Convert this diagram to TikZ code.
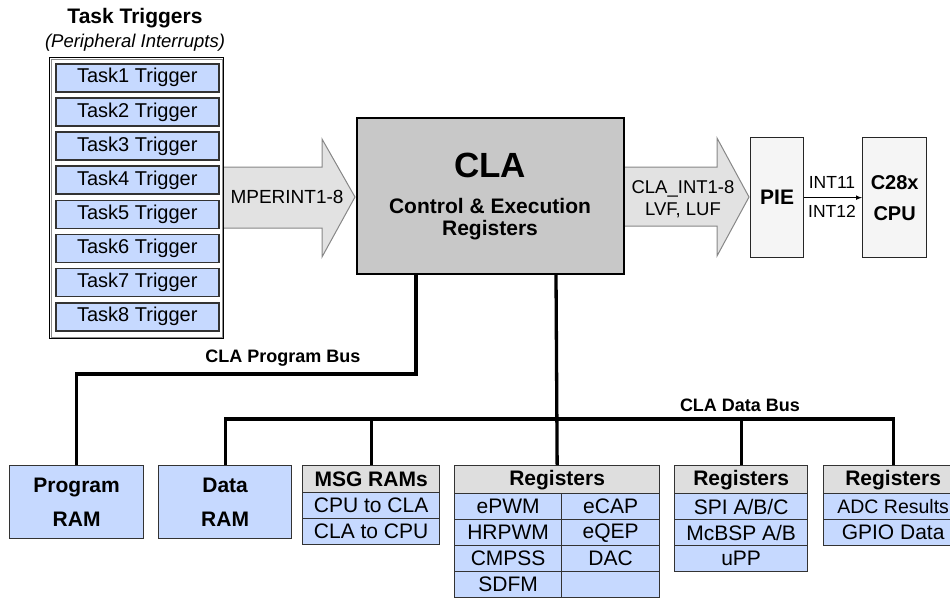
\documentclass[tikz,border=0pt]{standalone}
\RequirePackage{fontspec}
\setmainfont{Liberation Sans}
\RequirePackage{tikz}
\RequirePackage{tkz-euclide}
\usetikzlibrary{calc}

\definecolor{cellblue}{RGB}{198,217,255}
\definecolor{headgray}{RGB}{222,222,222}
\definecolor{clagray}{RGB}{200,200,200}
\definecolor{arrowgray}{RGB}{226,226,226}
\definecolor{arrowedge}{RGB}{135,135,135}
\definecolor{boxwhite}{RGB}{245,245,245}

\tikzset{
  cell/.style={draw=black!80, line width=1.3pt, fill=cellblue, inner sep=0pt,
    anchor=north west, font=\fontsize{21}{25}\selectfont},
  headcell/.style={cell, fill=headgray, font=\bfseries\fontsize{21}{25}\selectfont},
  taskcell/.style={cell, line width=1.6pt, minimum width=163pt, minimum height=28pt,
    font=\fontsize{20}{24}\selectfont},
  rambox/.style={cell, minimum height=73pt, align=center,
    font=\bfseries\fontsize{21}{34}\selectfont},
  sidebox/.style={draw=black!85, line width=1.3pt, fill=boxwhite, inner sep=0pt,
    anchor=north west, minimum height=120pt, align=center},
  bigarrow/.style={draw=arrowedge, line width=1pt, fill=arrowgray, line join=miter},
  bus/.style={draw=black, line width=3.3pt, line join=miter},
  buslabel/.style={font=\bfseries\fontsize{18}{22}\selectfont, inner sep=0pt},
}

\begin{document}
\begin{tikzpicture}[x=1pt,y=-1pt]
                    \useasboundingbox (0,0) rectangle (950,598);

                    \filldraw[bigarrow] (223,167) -- (322,167) -- (322,139) -- (355,197)
                        -- (322,257) -- (322,228) -- (223,228) -- cycle;
                    \filldraw[bigarrow] (623,167) -- (717,167) -- (717,138) -- (749,197)
                        -- (717,256) -- (717,226) -- (623,226) -- cycle;
                    \node[font=\fontsize{19}{22}\selectfont, inner sep=0pt] (mperint) at (287,197) {MPERINT1-8};
                    \node[font=\fontsize{18.5}{22}\selectfont, align=center, inner sep=0pt] (claint) at (683,199) {CLA\_INT1-8\\LVF, LUF};

                    \node[font=\bfseries\fontsize{21}{25}\selectfont, inner sep=0pt] (tasktitle) at (135,18) {Task Triggers};
                    \node[font=\itshape\fontsize{18.5}{22}\selectfont, inner sep=0pt] (tasksub) at (135,43) {(Peripheral Interrupts)};
                    \node[draw=black, line width=1.2pt, fill=white, anchor=north west, inner sep=0pt,
                        minimum width=174pt, minimum height=281pt] (taskframe) at (49,57) {};
                    \draw[black!45, line width=0.9pt] ($(taskframe.north west)+(2.2,2.2)$) rectangle ($(taskframe.south east)+(-2.2,-2.2)$);
                    \node[taskcell] (task1) at (55,63.0) {Task1 Trigger};
                    \node[taskcell] (task2) at (55,97.1) {Task2 Trigger};
                    \node[taskcell] (task3) at (55,131.3) {Task3 Trigger};
                    \node[taskcell] (task4) at (55,165.4) {Task4 Trigger};
                    \node[taskcell] (task5) at (55,199.6) {Task5 Trigger};
                    \node[taskcell] (task6) at (55,233.7) {Task6 Trigger};
                    \node[taskcell] (task7) at (55,267.8) {Task7 Trigger};
                    \node[taskcell] (task8) at (55,302.0) {Task8 Trigger};

                    \node[draw=black, line width=1.5pt, fill=clagray, anchor=north west, inner sep=0pt,
                        minimum width=267pt, minimum height=156pt] (cla) at (356,117) {};
                    \node[font=\bfseries\fontsize{35}{40}\selectfont, inner sep=0pt] (clatitle) at (490,165) {CLA};
                    \node[font=\bfseries\fontsize{21}{22}\selectfont, align=center, inner sep=0pt] (clasub) at (490,219) {Control \& Execution\\Registers};

                    \node[sidebox, minimum width=53pt, font=\bfseries\fontsize{21}{25}\selectfont] (pie) at (750,137) {PIE};
                    \node[sidebox, minimum width=64pt, font=\bfseries\fontsize{20}{31}\selectfont] (cpu) at (862,137) {C28x\\CPU};
                    \draw[-latex, line width=1pt] (pie.east) -- (cpu.west);
                    \node[font=\fontsize{17.5}{20}\selectfont, inner sep=0pt] (int11) at (832,182) {INT11};
                    \node[font=\fontsize{17.5}{20}\selectfont, inner sep=0pt] (int12) at (832,211) {INT12};

                    \node[rambox, minimum width=134pt] (prgram) at (9,465) {Program\\RAM};
                    \node[rambox, minimum width=133pt] (dataram) at (158,465) {Data\\RAM};

                    \node[headcell, minimum width=137pt, minimum height=27pt] (msghead) at (302,465) {MSG RAMs};
                    \node[cell, minimum width=137pt, minimum height=26pt] (msgcpu) at (302,492) {CPU to CLA};
                    \node[cell, minimum width=137pt, minimum height=26pt] (msgcla) at (302,518) {CLA to CPU};

                    \node[headcell, minimum width=205pt, minimum height=28pt] (reghead) at (454,465) {Registers};
                    \node[cell, minimum width=107pt, minimum height=26pt] (epwm) at (454,493) {ePWM};
                    \node[cell, minimum width=98pt, minimum height=26pt] (ecap) at (561,493) {eCAP};
                    \node[cell, minimum width=107pt, minimum height=26pt] (hrpwm) at (454,519) {HRPWM};
                    \node[cell, minimum width=98pt, minimum height=26pt] (eqep) at (561,519) {eQEP};
                    \node[cell, minimum width=107pt, minimum height=26pt] (cmpss) at (454,545) {CMPSS};
                    \node[cell, minimum width=98pt, minimum height=26pt] (dac) at (561,545) {DAC};
                    \node[cell, minimum width=107pt, minimum height=26pt] (sdfm) at (454,571) {SDFM};
                    \node[cell, minimum width=98pt, minimum height=26pt] (blank) at (561,571) {};

                    \node[headcell, minimum width=133pt, minimum height=28pt] (serhead) at (674,465) {Registers};
                    \node[cell, minimum width=133pt, minimum height=26pt] (spi) at (674,493) {SPI A/B/C};
                    \node[cell, minimum width=133pt, minimum height=26pt] (mcbsp) at (674,519) {McBSP A/B};
                    \node[cell, minimum width=133pt, minimum height=26pt] (upp) at (674,545) {uPP};

                    \node[headcell, minimum width=139pt, minimum height=28pt] (adchead) at (823,465) {Registers};
                    \node[cell, minimum width=139pt, minimum height=26pt, font=\fontsize{19.5}{25}\selectfont] (adc) at (823,493) {ADC Results};
                    \node[cell, minimum width=139pt, minimum height=26pt] (gpio) at (823,519) {GPIO Data};

                    \tkzDefPoint(416,374){P}
                    \tkzDefPoint(556,419){D}
                    \draw[bus] (cla.south -| P) -- (P) -| (prgram.north);
                    \draw[bus] (cla.south -| D) -- (reghead.north);
                    \draw[bus] (dataram.north) |- (adchead.north |- D) -- (adchead.north);
                    \draw[bus] (msghead.north |- D) -- (msghead.north);
                    \draw[bus] (serhead.north |- D) -- (serhead.north);

                    \node[buslabel] (progbus) at (283,358) {CLA Program Bus};
                    \node[buslabel] (databus) at (740,405) {CLA Data Bus};
                \end{tikzpicture}
\end{document}
